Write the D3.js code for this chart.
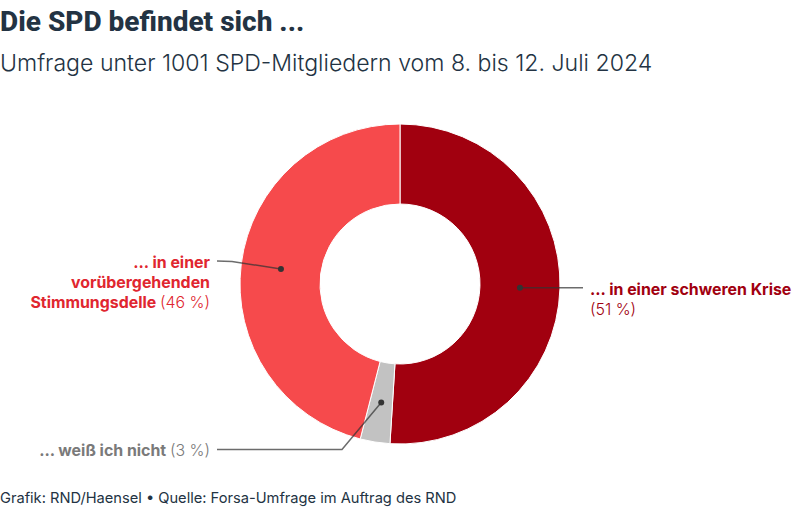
<!DOCTYPE html>
<html>
<head>
    <title>Die SPD befindet sich ...</title>
    <script src="https://d3js.org/d3.v7.min.js"></script>
    <style>
        html, body { margin: 0; padding: 0; background: #fff; }
        svg { display: block; font-family: Inter, sans-serif; }
        .title { font: 800 28px "Roboto", sans-serif; fill: #233343; }
        .subtitle { font-size: 23.1px; font-weight: 300; fill: #233343; }
        .label { font-size: 15.9px; font-weight: 700; }
        .value { font-weight: 300; }
        .source { font-size: 14.65px; font-weight: 400; fill: #233343; }
    </style>
</head>
<body>
    <svg id="chart"></svg>
    <script>
        // survey shares in percent, clockwise from twelve o'clock
        const categories = ["... in einer schweren Krise", "... weiß ich nicht", "... in einer vorübergehenden Stimmungsdelle"];
        const values = [51, 3, 46];
        const fills = ["#a1000f", "#c2c2c2", "#f64a4c"];
        const textColors = ["#a1000f", "#7a7a7a", "#e0262f"];

        const width = 800, height = 508;
        const cx = 400, cy = 284, outer = 160, inner = 80;

        const svg = d3.select("#chart").attr("width", width).attr("height", height);

        svg.append("text").attr("class", "title").attr("x", 0).attr("y", 31).text("Die SPD befindet sich ...");
        svg.append("text").attr("class", "subtitle").attr("x", 0).attr("y", 71)
            .text("Umfrage unter 1001 SPD-Mitgliedern vom 8. bis 12. Juli 2024");

        const pie = d3.pie().sort(null)(values);
        const arc = d3.arc().innerRadius(inner).outerRadius(outer);
        const g = svg.append("g").attr("transform", `translate(${cx},${cy})`);

        g.selectAll("path")
            .data(pie)
            .join("path")
            .attr("d", arc)
            .attr("fill", (d, i) => fills[i])
            .attr("stroke", "#fff")
            .attr("stroke-width", 1);

        // leader lines start at the slice centroid
        const dots = pie.map(d => arc.centroid(d));
        const ends = [
            [[583 - cx, dots[0][1]]],
            [[342 - cx, 449.5 - cy], [217 - cx, 449.5 - cy]],
            [[232 - cx, 261.5 - cy], [217 - cx, 261 - cy]]
        ];
        const line = d3.line();
        g.selectAll(".leader")
            .data(dots)
            .join("path")
            .attr("class", "leader")
            .attr("d", (d, i) => line([d, ...ends[i]]))
            .attr("fill", "none")
            .attr("stroke", "#333")
            .attr("stroke-opacity", 0.72)
            .attr("stroke-width", 1.5);
        g.selectAll(".dot")
            .data(dots)
            .join("circle")
            .attr("class", "dot")
            .attr("cx", d => d[0])
            .attr("cy", d => d[1])
            .attr("r", 3)
            .attr("fill", "#333");

        function addLabel(i, x, y, anchor, lines) {
            const t = svg.append("text").attr("class", "label").attr("x", x).attr("y", y)
                .attr("text-anchor", anchor).attr("fill", textColors[i]);
            lines.forEach((l, k) => {
                const row = t.append("tspan").attr("x", x).attr("dy", k ? 20 : 0);
                row.text(l[0]);
                if (l[1]) row.append("tspan").attr("class", "value").text(l[1]);
            });
        }

        const share = i => `(${values[i]} %)`;
        addLabel(0, 590, 295, "start", [[categories[0]], ["", share(0)]]);
        addLabel(1, 210, 456, "end", [[categories[1] + " ", share(1)]]);
        addLabel(2, 210, 267.5, "end", [["... in einer"], ["vorübergehenden"], ["Stimmungsdelle ", share(2)]]);

        svg.append("text").attr("class", "source").attr("x", 0).attr("y", 503)
            .text("Grafik: RND/Haensel • Quelle: Forsa-Umfrage im Auftrag des RND");
    </script>
</body>
</html>
